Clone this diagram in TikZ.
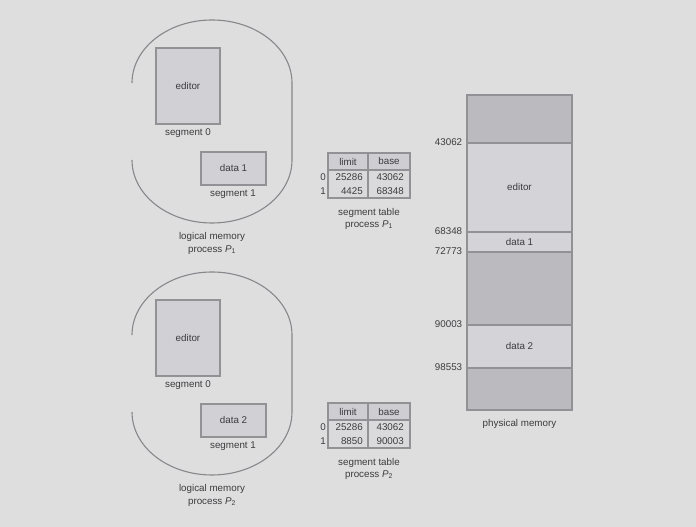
\documentclass[tikz,border=0pt]{standalone}
\usepackage{fontspec}
\setmainfont{Liberation Sans}
\definecolor{bgcol}{RGB}{222,222,222}
\definecolor{boxfill}{RGB}{208,208,213}
\definecolor{bordercol}{RGB}{145,145,150}
\definecolor{darkseg}{RGB}{187,187,191}
\definecolor{lightseg}{RGB}{212,212,216}
\definecolor{txtcol}{RGB}{60,60,63}
\definecolor{headfill}{RGB}{206,206,210}
\definecolor{cellfill}{RGB}{218,218,221}
\definecolor{ovalcol}{RGB}{135,135,140}
\tikzset{
  lbl/.style={font=\fontsize{9.8}{11}\selectfont, text=txtcol, inner sep=0pt},
  segbox/.style={draw=bordercol, line width=1.3pt, fill=boxfill, inner sep=0pt},
  memseg/.style={draw=bordercol, line width=1.2pt, inner sep=0pt, minimum width=105pt},
  tcell/.style={draw=bordercol, line width=1.2pt, inner sep=0pt},
  oval/.style={draw=ovalcol, line width=1.1pt},
}
\newcommand{\logmem}[5]{% #1 y-offset, #2 data label, #3 subscript, #4 name prefix
  \draw[oval] (132,444-#1) arc[start angle=180,end angle=90,x radius=80,y radius=63]
    arc[start angle=90,end angle=0,x radius=80,y radius=63]
    -- (292,367-#1)
    arc[start angle=0,end angle=-90,x radius=80,y radius=63]
    arc[start angle=-90,end angle=-180,x radius=80,y radius=63];
  \node[segbox, minimum width=64pt, minimum height=76pt] (#4ed) at (188,441-#1) {};
  \node[lbl] (#4edt) at (#4ed.center) {editor};
  \node[lbl] (#4s0) at (188,394-#1) {segment 0};
  \node[segbox, minimum width=65pt, minimum height=33pt] (#4da) at (233.5,358.5-#1) {};
  \node[lbl] (#4dat) at (#4da.center) {#2};
  \node[lbl] (#4s1) at (233,333-#1) {segment 1};
  \node[lbl] (#4lm) at (212,290-#1) {logical memory};
  \node[lbl] (#4pr) at (212,277-#1) {process {\itshape P}\textsubscript{#3}};
}
\newcommand{\segtable}[5]{% #1 y-offset, #2 limit row1, #3 base row1, #4 sub, #5 prefix
  \node[tcell, fill=headfill, minimum width=40pt, minimum height=17pt] (#5hl) at (348,365.5-#1) {};
  \node[tcell, fill=headfill, minimum width=42pt, minimum height=17pt] (#5hb) at (389,365.5-#1) {};
  \node[tcell, fill=cellfill, minimum width=40pt, minimum height=28pt] (#5bl) at (348,343-#1) {};
  \node[tcell, fill=cellfill, minimum width=42pt, minimum height=28pt] (#5bb) at (389,343-#1) {};
  \node[lbl] (#5thl) at (#5hl.center) {limit};
  \node[lbl] (#5thb) at (#5hb.center) {base};
  \node[lbl, anchor=east] (#5l0) at (363,350-#1) {25286};
  \node[lbl, anchor=east] (#5l1) at (363,336-#1) {#2};
  \node[lbl, anchor=east] (#5b0) at (404,350-#1) {43062};
  \node[lbl, anchor=east] (#5b1) at (404,336-#1) {#3};
  \node[lbl, anchor=east] (#5r0) at (326,350-#1) {0};
  \node[lbl, anchor=east] (#5r1) at (326,336-#1) {1};
  \node[lbl] (#5st) at (369,314-#1) {segment table};
  \node[lbl] (#5sp) at (369,302-#1) {process {\itshape P}\textsubscript{#4}};
}
\begin{document}
\begin{tikzpicture}[x=1pt,y=1pt]
\fill[bgcol] (0,0) rectangle (696,527);
\useasboundingbox (0,0) rectangle (696,527);
\logmem{0}{data 1}{1}{a}{}
\logmem{252}{data 2}{2}{b}{}
\segtable{0}{4425}{68348}{1}{ta}
\segtable{250}{8850}{90003}{2}{tb}
% physical memory
\node[memseg, fill=darkseg, minimum height=48pt] (m0) at (519.5,408) {};
\node[memseg, fill=lightseg, minimum height=89pt] (m1) at (519.5,339.5) {};
\node[memseg, fill=lightseg, minimum height=20pt] (m2) at (519.5,285) {};
\node[memseg, fill=darkseg, minimum height=73pt] (m3) at (519.5,238.5) {};
\node[memseg, fill=lightseg, minimum height=43pt] (m4) at (519.5,180.5) {};
\node[memseg, fill=darkseg, minimum height=42pt] (m5) at (519.5,138) {};
\node[lbl] (m1t) at (m1.center) {editor};
\node[lbl] (m2t) at (m2.center) {data 1};
\node[lbl] (m4t) at (m4.center) {data 2};
\node[lbl] (pm) at (519.5,103) {physical memory};
\node[lbl, anchor=east] (a1) at ([xshift=-4pt]m1.north west) {43062};
\node[lbl, anchor=east] (a2) at ([xshift=-4pt]m2.north west) {68348};
\node[lbl, anchor=east] (a3) at ([xshift=-4pt]m3.north west) {72773};
\node[lbl, anchor=east] (a4) at ([xshift=-4pt]m4.north west) {90003};
\node[lbl, anchor=east] (a5) at ([xshift=-4pt]m5.north west) {98553};
\end{tikzpicture}
\end{document}
